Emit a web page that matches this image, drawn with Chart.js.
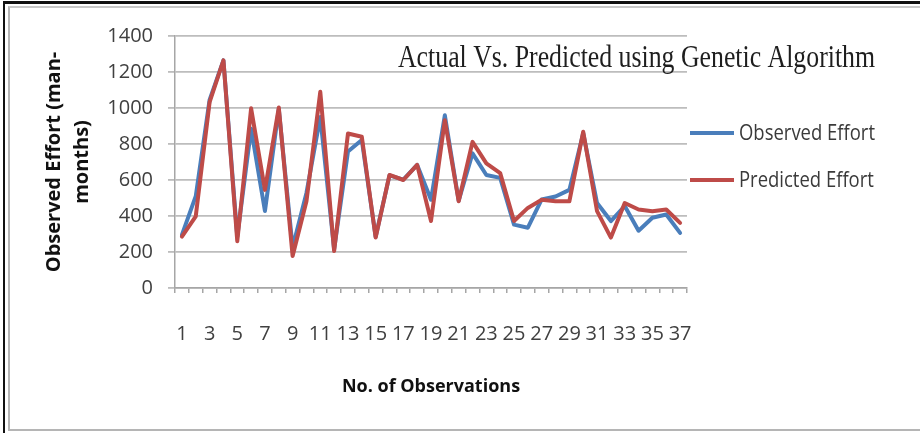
<!DOCTYPE html>
<html>
<head>
<meta charset="utf-8">
<script src="https://cdn.jsdelivr.net/npm/chart.js@4.4.1/dist/chart.umd.min.js"></script>
<style>
  html, body { margin: 0; padding: 0; background: #fff; }
  #wrap { position: relative; width: 920px; height: 433px; overflow: hidden; }
  #chart { position: absolute; left: 0; top: 0; }
  .frame-outer { position: absolute; left: 3px; top: 1px; right: -10px; bottom: -10px;
    border-left: 2px solid #111; border-top: 3px solid #111; pointer-events: none; }
  .frame-inner { position: absolute; left: 8px; top: 6px; right: -10px; height: 421px;
    border-left: 2px solid #b5b5b5; border-top: 2px solid #c8c8c8; border-bottom: 2px solid #b5b5b5; pointer-events: none; }
</style>
</head>
<body>
<div id="wrap">
  <canvas id="chart" width="920" height="433"></canvas>
  <div class="frame-outer"></div>
  <div class="frame-inner"></div>
</div>
<script>
var observations = ["1","2","3","4","5","6","7","8","9","10","11","12","13","14","15","16","17","18","19",
    "20","21","22","23","24","25","26","27","28","29","30","31","32","33","34","35","36","37"];

var observed_effort = [295, 510, 1045, 1265, 285, 885, 428, 995, 225, 528, 950, 215, 758, 822, 285, 626, 602, 684, 490,
    960, 485, 748, 628, 612, 352, 335, 492, 508, 545, 860, 472, 372, 455, 318, 390, 408, 306];

var predicted_effort = [285, 398, 1032, 1265, 260, 998, 545, 1003, 178, 482, 1090, 205, 858, 840, 280, 628, 600, 684, 372,
    932, 482, 812, 692, 638, 372, 445, 490, 482, 482, 868, 427, 280, 472, 436, 427, 436, 362];

var y_min = 0;
var y_max = 1400;
var y_step = 200;

var chart_title = "Actual Vs. Predicted using Genetic Algorithm";
var series_names = ["Observed Effort", "Predicted Effort"];
var series_colors = ["#4a7ebb", "#be4b48"];

// title and legend are drawn by hand to get the squeezed office look
var overlay = {
    id: "overlay",
    afterDraw: function(chart) {
        var ctx = chart.ctx;
        ctx.save();
        ctx.font = '31px "Liberation Serif"';
        ctx.fillStyle = "#1e1e1e";
        ctx.textBaseline = "alphabetic";
        var tw = ctx.measureText(chart_title).width;
        ctx.translate(398, 67);
        ctx.scale(477 / tw, 1);
        ctx.fillText(chart_title, 0, 0);
        ctx.restore();

        for (let i = 0; i < series_names.length; i++) {
            var y = 133 + i * 47;
            ctx.save();
            ctx.strokeStyle = series_colors[i];
            ctx.lineWidth = 4;
            ctx.beginPath();
            ctx.moveTo(690, y);
            ctx.lineTo(734, y);
            ctx.stroke();
            ctx.font = '21px "Open Sans"';
            ctx.fillStyle = "#3a3a3a";
            ctx.textBaseline = "middle";
            var lw = ctx.measureText(series_names[0]).width;
            ctx.translate(739, y + 1);
            ctx.scale(136 / lw, 1);
            ctx.fillText(series_names[i], 0, 0);
            ctx.restore();
        }
    }
};

const ctx = document.getElementById("chart").getContext("2d");
const myChart = new Chart(ctx, {
    type: "line",
    data: {
        labels: observations,
        datasets: [{
            label: series_names[0],
            data: observed_effort,
            borderColor: series_colors[0],
            backgroundColor: series_colors[0],
            borderWidth: 4,
            borderJoinStyle: "round",
            borderCapStyle: "round",
            pointRadius: 0,
            tension: 0,
            order: 2,
        }, {
            label: series_names[1],
            data: predicted_effort,
            borderColor: series_colors[1],
            backgroundColor: series_colors[1],
            borderWidth: 4,
            borderJoinStyle: "round",
            borderCapStyle: "round",
            pointRadius: 0,
            tension: 0,
            order: 1,
        }, ],
    },
    options: {
        responsive: false,
        animation: false,
        layout: {
            padding: { top: 36, right: 233, bottom: 0, left: 0 },
        },
        plugins: {
            legend: { display: false },
            tooltip: { enabled: false },
        },
        scales: {
            x: {
                offset: true,
                afterFit: function(scale) { scale.height = 145; },
                border: { color: "#a6a6a6", width: 1.5 },
                grid: {
                    offset: true,
                    drawOnChartArea: false,
                    drawTicks: true,
                    tickLength: 5,
                    color: "#a6a6a6",
                    lineWidth: 1.5,
                },
                ticks: {
                    autoSkip: false,
                    maxRotation: 0,
                    padding: 29,
                    color: "#404040",
                    font: { family: "Open Sans", size: 20 },
                    callback: function(value, index) {
                        return index % 2 === 0 ? this.getLabelForValue(value) : "";
                    },
                },
                title: {
                    display: true,
                    text: "No. of Observations",
                    color: "#111",
                    font: { family: "Open Sans", size: 18, weight: "bold" },
                    padding: { top: 0, bottom: 35 },
                },
            },
            y: {
                min: y_min,
                max: y_max,
                afterFit: function(scale) { scale.width = 175; },
                border: { color: "#a6a6a6", width: 1.5 },
                grid: {
                    color: "#bdbdbd",
                    lineWidth: 1.8,
                    tickLength: 7,
                },
                ticks: {
                    stepSize: y_step,
                    padding: 15,
                    color: "#404040",
                    font: { family: "Open Sans", size: 20 },
                    callback: function(value) { return String(value); },
                },
                title: {
                    display: true,
                    text: ["Observed Effort (man-", "months)"],
                    color: "#111",
                    font: { family: "Open Sans", size: 20, weight: "bold", lineHeight: "28px" },
                    padding: { top: 40, bottom: 0 },
                },
            },
        },
    },
    plugins: [overlay],
});
</script>
</body>
</html>
